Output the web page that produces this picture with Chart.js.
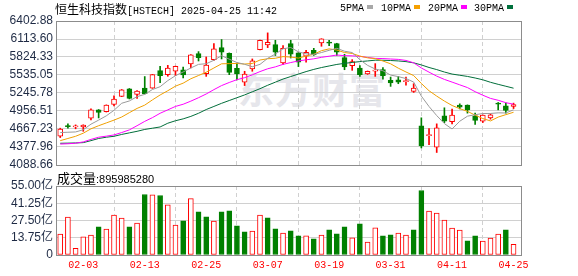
<!DOCTYPE html>
<html lang="zh-CN">
<head>
<meta charset="UTF-8">
<title>恒生科技指数 日K</title>
<script src="https://cdn.jsdelivr.net/npm/chart.js"></script>
<style>
  body { margin: 0; background: #fff; }
  #wrap { position: relative; width: 578px; height: 276px; overflow: hidden; background: #fff; }
  #wrap canvas { position: absolute; left: 0; z-index: 2; }
  #kline { top: 0; }
  #vol { top: 168px; }
  .txt { position: absolute; white-space: nowrap; z-index: 3; color: #000; }
  .cn { font-family: 'Noto Sans CJK SC', sans-serif; }
  .mono { font-family: 'Liberation Mono', monospace; font-size: 10px; }
  #title { left: 55px; top: 1px; font-size: 12px; line-height: 16px; }
  .lg { position: absolute; top: 2px; font-family: 'Liberation Mono', monospace; font-size: 10px; line-height: 14px; z-index: 3; white-space: nowrap; }
  .sq { display: inline-block; width: 6px; height: 4px; margin-left: 3px; vertical-align: 2px; }
  #volTitle { left: 57px; top: 170px; font-size: 13px; line-height: 16px; }
  #volTitle .num { font-family: 'Liberation Sans', sans-serif; font-size: 11px; }
  #mark { position: absolute; left: 238px; top: 70px; font: bold 36px/36px 'Noto Sans CJK SC', sans-serif; color: #e6e6eb; z-index: 1; letter-spacing: 1px; }
</style>
</head>
<body>
<div id="wrap">
  <div id="mark">东方财富</div>
  <div class="txt" id="title"><span class="cn">恒生科技指数</span><span class="mono">[HSTECH] 2025-04-25 11:42</span></div>
  <div class="lg" style="left:340px">5PMA<span class="sq" style="background:#a8a8a8"></span></div>
  <div class="lg" style="left:381px">10PMA<span class="sq" style="background:#f5a000"></span></div>
  <div class="lg" style="left:428px">20PMA<span class="sq" style="background:#ff00ff"></span></div>
  <div class="lg" style="left:474px">30PMA<span class="sq" style="background:#00703c"></span></div>
  <div class="txt" id="volTitle"><span class="cn">成交量</span><span class="num">:895985280</span></div>
  <canvas id="kline" width="578" height="168"></canvas>
  <canvas id="vol" width="578" height="108"></canvas>
</div>

<script>
  // 交易日
  const dates = [
    '01-24','01-27','01-28','02-03','02-04','02-05','02-06','02-07','02-10','02-11',
    '02-12','02-13','02-14','02-17','02-18','02-19','02-20','02-21','02-24','02-25',
    '02-26','02-27','02-28','03-03','03-04','03-05','03-06','03-07','03-10','03-11',
    '03-12','03-13','03-14','03-17','03-18','03-19','03-20','03-21','03-24','03-25',
    '03-26','03-27','03-28','03-31','04-01','04-02','04-03','04-07','04-08','04-09',
    '04-10','04-11','04-14','04-15','04-16','04-17','04-22','04-23','04-24','04-25'
  ];
  const xTickDates = ['02-03','02-13','02-25','03-07','03-19','03-31','04-11','04-25'];

  // K线 开高低收
  const openP = [4550,4712,4702,4700,4840,4975,4945,5062,5192,5314,
                 5222,5325,5325,5605,5540,5595,5620,5713,5879,5556,
                 5782,5976,5885,5642,5420,5632,5943,6020,6024,5730,
                 6040,5890,5836,5932,6051,6055,6040,5814,5685,5648,
                 5551,5598,5621,5448,5459,5428,5271,4717,4562,4374,
                 4879,4787,5050,5051,4879,4793,4846,5075,5040,5030];
  const highP = [4680,4750,4733,4735,4990,4980,5055,5200,5302,5318,
                 5285,5510,5545,5675,5690,5678,5663,5862,5911,5825,
                 6040,6105,5890,5728,5595,5793,6095,6212,6093,6008,
                 6093,5895,5932,5964,6118,6093,6045,5868,5782,5685,
                 5600,5718,5653,5502,5513,5502,5395,4847,4675,4750,
                 5008,4987,5072,5055,4922,4893,4911,5093,5083,5083];
  const lowP  = [4530,4680,4670,4630,4815,4845,4940,5040,5188,5150,
                 5160,5230,5320,5410,5515,5525,5487,5648,5760,5513,
                 5770,5793,5540,5455,5365,5595,5940,5975,5848,5705,
                 5808,5670,5740,5850,5997,6008,5850,5620,5610,5513,
                 5545,5513,5470,5352,5395,5373,5255,4363,4416,4290,
                 4770,4750,4990,4922,4740,4771,4825,4975,4922,4996];
  const closeP = [4665,4705,4710,4730,4975,4935,5050,5148,5298,5160,
                  5277,5235,5540,5525,5648,5674,5535,5858,5815,5696,
                  5955,5900,5578,5552,5548,5761,6093,6060,5900,5965,
                  5868,5740,5900,5858,6116,6048,5900,5665,5750,5540,
                  5594,5604,5525,5406,5418,5436,5325,4395,4572,4685,
                  4795,4890,5020,4975,4805,4890,4895,5068,4965,5060];

  // 均线
  const ma5 = [4610,4615,4620,4655,4745,4810,4879,4968,5081,5118,
               5187,5224,5302,5347,5445,5524,5584,5648,5706,5716,
               5772,5845,5789,5736,5707,5668,5706,5803,5872,5956,
               5977,5907,5875,5866,5896,5932,5964,5917,5896,5781,
               5690,5631,5603,5534,5509,5478,5422,5196,5029,4883,
               4754,4667,4792,4873,4897,4916,4917,4927,4925,4976];
  const ma10 = [4480,4515,4550,4600,4670,4720,4765,4810,4860,4930,
                4998,5051,5135,5214,5282,5356,5404,5475,5527,5580,
                5648,5715,5718,5721,5711,5720,5776,5796,5804,5831,
                5823,5807,5839,5869,5926,5955,5936,5896,5881,5839,
                5811,5798,5760,5715,5645,5584,5526,5399,5282,5196,
                5116,5045,4994,4951,4890,4835,4797,4859,4898,4936];
  const ma20 = [4425,4430,4438,4460,4500,4535,4552,4572,4610,4653,
                4720,4790,4850,4920,4975,5030,5065,5115,5170,5230,
                5300,5365,5415,5460,5492,5538,5590,5635,5666,5706,
                5735,5761,5779,5795,5819,5837,5856,5846,5843,5835,
                5817,5802,5799,5792,5786,5769,5731,5648,5581,5517,
                5464,5421,5377,5333,5267,5210,5159,5129,5090,5066];
  const ma30 = [4438,4440,4443,4448,4480,4515,4535,4550,4580,4605,
                4630,4660,4680,4700,4760,4800,4830,4870,4920,4980,
                5030,5080,5125,5170,5215,5265,5315,5370,5420,5470,
                5510,5550,5590,5625,5655,5680,5705,5722,5737,5750,
                5761,5773,5772,5768,5761,5750,5730,5697,5656,5622,
                5583,5550,5531,5512,5487,5458,5418,5385,5354,5323];

  // 成交量 (亿)
  const volume = [16.6,30.3,5.4,14.5,15.8,22.5,20.6,31.9,29.5,22.5,
                  25.4,48.2,47.9,47.4,39.9,23.9,27.3,45.0,34.5,30.5,
                  27.1,34.5,35.3,23.3,18.5,19.0,31.9,29.7,20.9,17.4,
                  19.3,15.3,15.3,12.9,15.8,20.1,16.9,22.5,13.7,24.9,
                  10.2,21.7,15.3,16.1,17.4,15.8,20.1,51.4,35.1,33.5,
                  27.9,21.4,19.8,11.2,15.3,11.0,13.4,16.6,20.1,8.6];

  const priceTicks = [4088.66,4377.96,4667.23,4956.51,5245.78,5535.05,5824.33,6113.60,6402.88];
  const volTicks = [0,13.75,27.5,41.25,55];

  const RED = '#ff0000', GREEN = '#008000', GRID = '#d0d0d0', FRAME = '#8c8c8c', LABEL = '#1e2a44';
  const xTicks = xTickDates.map(d => dates.indexOf(d));
  const xMin = -0.55, xMax = dates.length + 0.1;

  const candleUp = closeP.map((c, i) => c >= openP[i]);
  const volUp = closeP.map((c, i) => i === 0 ? c >= openP[0] : c >= closeP[i - 1]);

  // 外框
  const framePlugin = {
    id: 'frame',
    afterDatasetsDraw(chart) {
      const a = chart.chartArea, c = chart.ctx;
      c.save();
      c.strokeStyle = FRAME;
      c.lineWidth = 1;
      c.strokeRect(Math.round(a.left) + 0.5, Math.round(a.top) + 0.5,
                   Math.round(a.right - a.left) - 1, Math.round(a.bottom - a.top));
      c.restore();
    }
  };

  function xAxis(showLabels) {
    return {
      type: 'linear', min: xMin, max: xMax, offset: false, bounds: 'data',
      afterBuildTicks: s => { s.ticks = xTicks.map(v => ({ value: v })); },
      afterFit: s => { s.height = showLabels ? 21 : 0; s.paddingLeft = 0; s.paddingRight = 0; },
      grid: { color: GRID, drawTicks: false },
      border: { display: false, dash: [4, 3] },
      ticks: {
        display: showLabels, autoSkip: false, maxRotation: 0, padding: 4, color: RED,
        font: { family: 'Liberation Mono', size: 10 },
        callback: v => dates[v]
      }
    };
  }

  function yAxis(ticks, fmt, family) {
    return {
      min: ticks[0], max: ticks[ticks.length - 1],
      afterBuildTicks: s => { s.ticks = ticks.map(v => ({ value: v })); },
      afterFit: s => { s.width = 56; s.paddingTop = 0; s.paddingBottom = 0; },
      grid: { color: GRID, drawTicks: false },
      border: { display: false },
      ticks: { autoSkip: false, padding: 3, color: LABEL, font: { family: family, size: 12 }, callback: fmt }
    };
  }

  function maLine(label, data, color) {
    return {
      type: 'line', label: label,
      data: data.map((v, i) => ({ x: i, y: v })),
      borderColor: color, borderWidth: 1, pointRadius: 0, tension: 0, order: 0
    };
  }

  // K线图
  new Chart(document.getElementById('kline'), {
    type: 'bar',
    data: {
      datasets: [
        maLine('5PMA', ma5, '#9a9a9a'),
        maLine('10PMA', ma10, '#f0a000'),
        maLine('20PMA', ma20, '#ff00ff'),
        maLine('30PMA', ma30, '#006e3a'),
        {
          label: 'body',
          data: dates.map((d, i) => ({ x: i, y: [Math.min(openP[i], closeP[i]), Math.max(openP[i], closeP[i])] })),
          backgroundColor: candleUp.map(u => u ? '#ffffff' : GREEN),
          borderColor: candleUp.map(u => u ? RED : GREEN),
          borderWidth: 1, borderSkipped: false, barThickness: 5, minBarLength: 1,
          grouped: false, order: 1
        },
        {
          label: 'wick',
          data: dates.map((d, i) => ({ x: i, y: [lowP[i], highP[i]] })),
          backgroundColor: candleUp.map(u => u ? RED : GREEN),
          barThickness: 1, grouped: false, order: 2
        }
      ]
    },
    options: {
      responsive: false, animation: false, events: [],
      layout: { padding: { left: 0, right: 56, top: 21, bottom: 3 } },
      plugins: { legend: { display: false }, tooltip: { enabled: false } },
      scales: {
        x: xAxis(false),
        y: yAxis(priceTicks, v => v.toFixed(2), 'Liberation Sans')
      }
    },
    plugins: [framePlugin]
  });

  // 成交量
  new Chart(document.getElementById('vol'), {
    type: 'bar',
    data: {
      datasets: [{
        label: '成交量',
        data: volume.map((v, i) => ({ x: i, y: v })),
        backgroundColor: volUp.map(u => u ? '#ffffff' : GREEN),
        borderColor: volUp.map(u => u ? RED : GREEN),
        borderWidth: 1, borderSkipped: false, barThickness: 5, grouped: false
      }]
    },
    options: {
      responsive: false, animation: false, events: [],
      layout: { padding: { left: 0, right: 56, top: 18, bottom: 0 } },
      plugins: { legend: { display: false }, tooltip: { enabled: false } },
      scales: {
        x: xAxis(true),
        y: yAxis(volTicks, v => v === 0 ? '0' : v.toFixed(2) + '亿', "'Liberation Sans', 'Noto Sans CJK SC'")
      }
    },
    plugins: [framePlugin]
  });
</script>
</body>
</html>
